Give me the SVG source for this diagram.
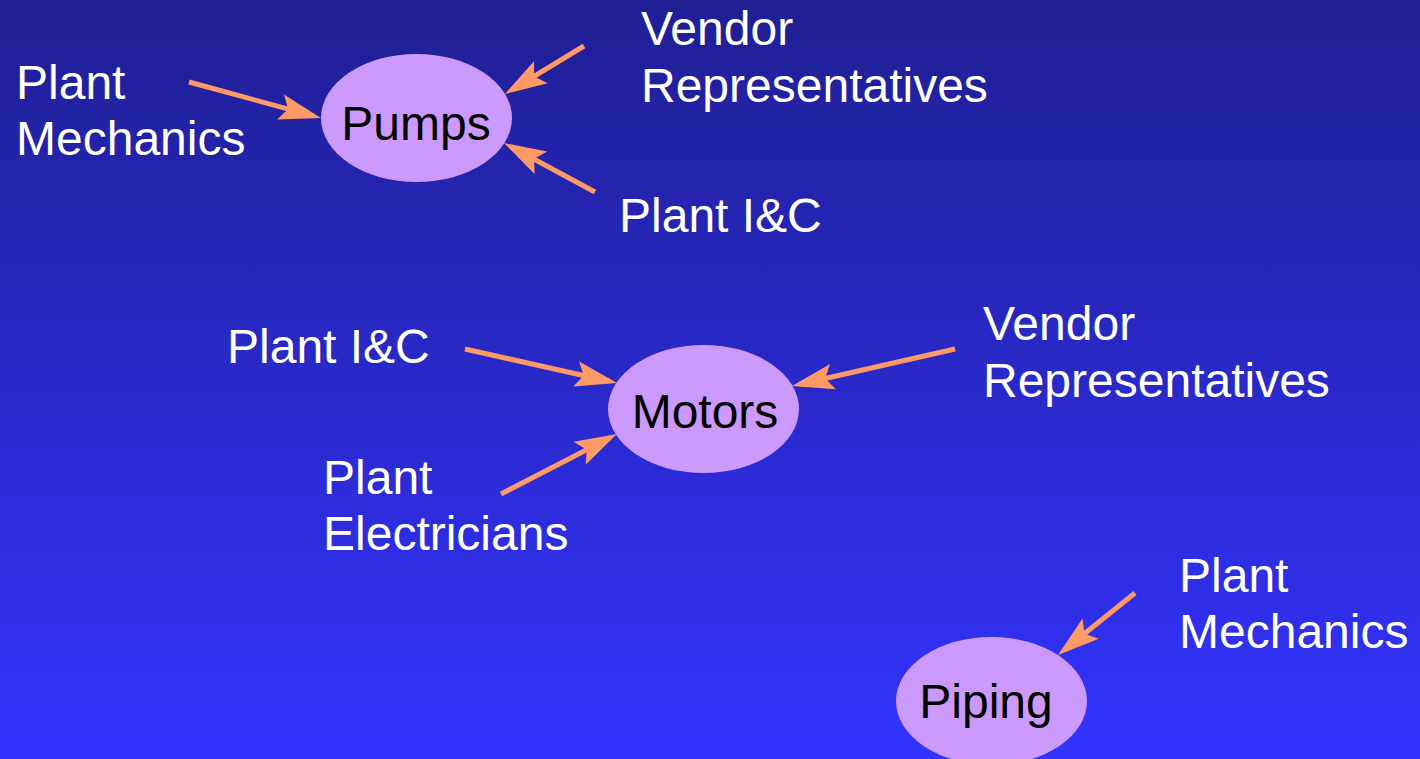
<svg xmlns="http://www.w3.org/2000/svg" width="1420" height="759" viewBox="0 0 1420 759">
<defs>
<linearGradient id="bg" x1="0" y1="0" x2="0" y2="1">
<stop offset="0" stop-color="#1F1F94"/>
<stop offset="1" stop-color="#3333FF"/>
</linearGradient>
<marker id="ah" markerUnits="userSpaceOnUse" markerWidth="60" markerHeight="40" viewBox="-40 -20 60 40" refX="0" refY="0" orient="auto">
<path d="M8,0 L-34,-13 L-26,0 L-34,13 Z" fill="#FF9966"/>
</marker>
<style>
.lbl{font-family:"Liberation Sans",Arial,sans-serif;font-size:48px;fill:#FFFFFF}
.nodeText{font-family:"Liberation Sans",Arial,sans-serif;font-size:48px;fill:#000000;text-anchor:middle}
.node{fill:#CC99FF}
.conn{stroke:#FF9966;stroke-width:5;fill:none;marker-end:url(#ah)}
</style>
</defs>
<rect x="0" y="0" width="1420" height="759" fill="url(#bg)"/>

<g id="connectors">
<line class="conn" x1="189" y1="82" x2="313.3" y2="115.9"/>
<line class="conn" x1="584" y1="46" x2="511.8" y2="89.8"/>
<line class="conn" x1="595" y1="192" x2="511" y2="146.8"/>
<line class="conn" x1="465" y1="349" x2="609.2" y2="381.3"/>
<line class="conn" x1="955" y1="349" x2="799.8" y2="384.2"/>
<line class="conn" x1="501" y1="494" x2="609.9" y2="437.7"/>
<line class="conn" x1="1135" y1="593" x2="1064.2" y2="650"/>
</g>

<g id="pumps">
<ellipse class="node" cx="416.5" cy="118" rx="95.5" ry="64"/>
<text class="nodeText" x="416" y="140">Pumps</text>
</g>
<g id="motors">
<ellipse class="node" cx="703.5" cy="409" rx="95.5" ry="64"/>
<text class="nodeText" x="705" y="428">Motors</text>
</g>
<g id="piping">
<ellipse class="node" cx="991.5" cy="701" rx="95.5" ry="64"/>
<text class="nodeText" x="986" y="718">Piping</text>
</g>

<g id="pumps-mechanics">
<text class="lbl" x="16" y="99">Plant</text>
<text class="lbl" x="16" y="155">Mechanics</text>
</g>
<g id="pumps-vendor">
<text class="lbl" x="641" y="45">Vendor</text>
<text class="lbl" x="641" y="102">Representatives</text>
</g>
<g id="pumps-ic">
<text class="lbl" x="619" y="232">Plant I&amp;C</text>
</g>
<g id="motors-ic">
<text class="lbl" x="227" y="363">Plant I&amp;C</text>
</g>
<g id="motors-vendor">
<text class="lbl" x="983" y="340">Vendor</text>
<text class="lbl" x="983" y="397">Representatives</text>
</g>
<g id="motors-electricians">
<text class="lbl" x="323" y="494">Plant</text>
<text class="lbl" x="323" y="550">Electricians</text>
</g>
<g id="piping-mechanics">
<text class="lbl" x="1179" y="592">Plant</text>
<text class="lbl" x="1179" y="648">Mechanics</text>
</g>
</svg>
